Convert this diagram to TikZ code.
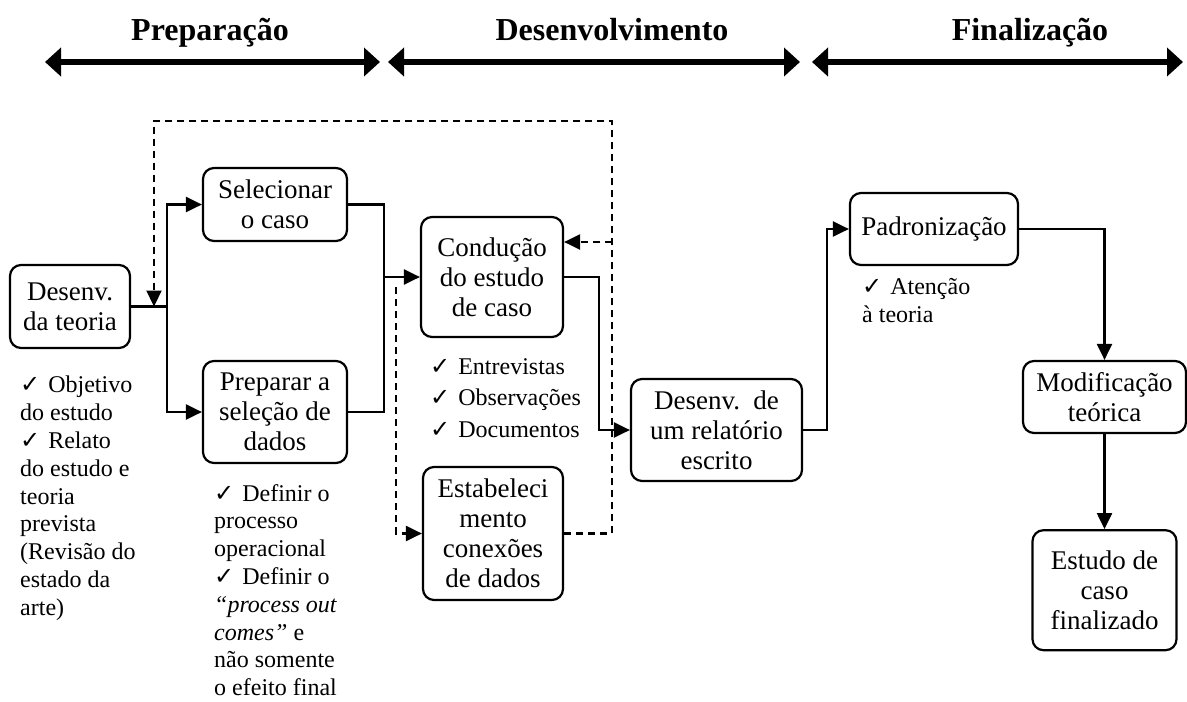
\documentclass[tikz,border=0pt]{standalone}
\usepackage{fontspec}
\setmainfont{Liberation Serif}
\newfontfamily\symb{DejaVu Sans}
\usetikzlibrary{arrows.meta,positioning}
\newcommand\ok{{\symb\fontsize{24}{24}\selectfont ✓}\hspace{8pt}}

\begin{document}
\begin{tikzpicture}[x=1pt,y=-1pt,
  box/.style={draw, line width=2.2pt, rounded corners=11pt, align=center, inner sep=0pt, font=\fontsize{27}{30}\selectfont},
  notes/.style={anchor=north west, align=left, inner sep=0pt, font=\fontsize{24}{27.8}\selectfont},
  phase/.style={anchor=base, font=\fontsize{32}{38}\selectfont\bfseries},
  span/.style={line width=5.5pt, {Triangle[length=16pt,width=28pt]}-{Triangle[length=16pt,width=28pt]}},
  link/.style={line width=2.2pt, -{Triangle[length=16pt,width=15pt]}},
  back/.style={link, dash pattern=on 7pt off 5pt}]
  \useasboundingbox (0,0) rectangle (1187,702);

  % phases
  \node [phase] (prepfase) at (210,40) {Preparação};
  \node [phase] (desenvfase) at (612,40) {Desenvolvimento};
  \node [phase] (finalfase) at (1030,40) {Finalização};
  \coordinate (a0) at (45,62);  \coordinate (a1) at (380,62);
  \coordinate (b0) at (388,62); \coordinate (b1) at (800,62);
  \coordinate (c0) at (812,62); \coordinate (c1) at (1183,62);
  \draw [span] (a0) -- (a1);
  \draw [span] (b0) -- (b1);
  \draw [span] (c0) -- (c1);

  % steps
  \node [box, minimum width=120pt, minimum height=83pt] (teoria) at (70,306.5) {Desenv.\\da teoria};
  \node [box, minimum width=144pt, minimum height=73pt] (selecao) at (275,204.5) {Selecionar\\o caso};
  \node [box, minimum width=144pt, minimum height=102pt] (preparo) at (275,412) {Preparar a\\seleção de\\dados};
  \node [box, minimum width=142pt, minimum height=120pt] (conducao) at (492,277) {Condução\\do estudo\\de caso};
  \node [box, minimum width=140pt, minimum height=133pt] (conexoes) at (493,533.5) {Estabeleci\\mento\\conexões\\de dados};
  \node [box, minimum width=171pt, minimum height=102pt] (relatorio) at (716.5,430) {Desenv.~~de\\um relatório\\escrito};
  \node [box, minimum width=168pt, minimum height=72pt] (padrao) at (934,229) {Padronização};
  \node [box, minimum width=163pt, minimum height=72pt] (modific) at (1104.5,397) {Modificação\\teórica};
  \node [box, minimum width=144pt, minimum height=120pt] (final) [below=95pt of modific] {Estudo de\\caso\\finalizado};

  % notes
  \node [notes] (teorialist) at (20,376) {\ok Objetivo\\do estudo\\\ok Relato\\do estudo e\\teoria\\prevista\\(Revisão do\\estado da\\arte)};
  \node [notes] (preplist) at (214,484) {\ok Definir o\\processo\\operacional\\\ok Definir o\\\textit{“process out}\\\textit{comes”} e\\não somente\\o efeito final};
  \node [notes, font=\fontsize{24}{31.5}\selectfont] (condlist) at (430,358) {\ok Entrevistas\\\ok Observações\\\ok Documentos};
  \node [notes] (padrlist) at (862,278) {\ok Atenção\\à teoria};

  % flow
  \coordinate (split) at (167,306.5);
  \coordinate (merge) at (384,277);
  \draw [line width=2.2pt] (teoria.east) -- (split);
  \draw [link] (split) |- (selecao.west);
  \draw [link] (split) |- (preparo.west);
  \draw [line width=2.2pt] (selecao.east) -| (merge);
  \draw [line width=2.2pt] (preparo.east) -| (merge);
  \draw [link] (merge) -- (conducao.west);
  \draw [link] (conducao.east) -- ++(35,0) |- (relatorio.west);
  \draw [link] (relatorio.east) -- ++(24,0) |- (padrao.west);
  \draw [link] (padrao.east) -| (modific.north);
  \draw [link] (modific.south) -- (final.north);

  % feedback
  \coordinate (retR) at (612,121);
  \coordinate (retL) at (154,121);
  \coordinate (ret2) at (612,242);
  \coordinate (ret3) at (396,287);
  \draw [back] (conexoes.east) -| (retR) -- (retL) -- (retL |- teoria.east);
  \draw [back] (ret2) -- (ret2 -| conducao.east);
  \draw [back] (ret3) |- (conexoes.west);
\end{tikzpicture}
\end{document}
